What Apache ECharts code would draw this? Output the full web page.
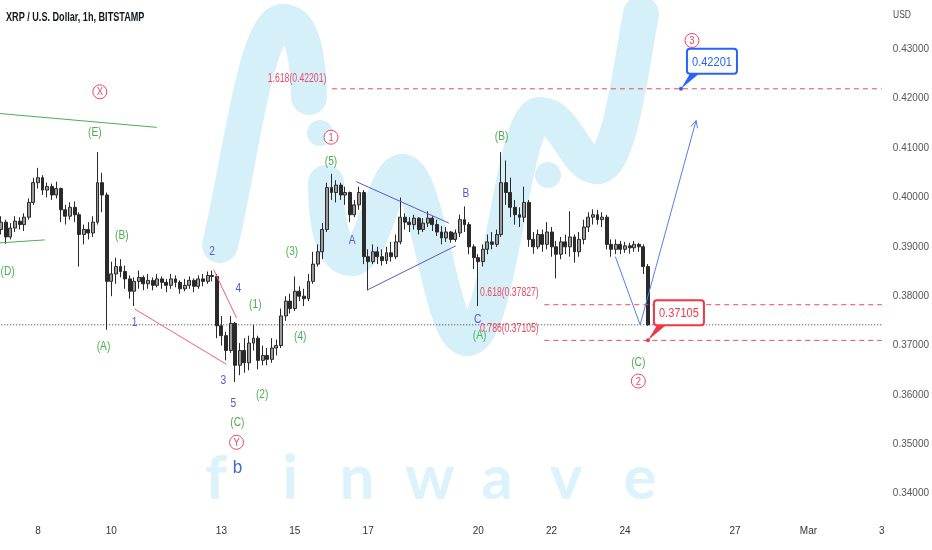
<!DOCTYPE html>
<html><head><meta charset="utf-8">
<script src="https://cdn.jsdelivr.net/npm/echarts/dist/echarts.min.js"></script>
<style>html,body{margin:0;padding:0;background:#fff}#c{width:932px;height:550px}</style>
</head><body><div id="c"></div>
<script>
// ---- 3-hour candles, XRP/USD ----
const opens = [0.3935,0.3950,0.3920,0.3938,0.3952,0.3945,0.3960,0.3990,0.4030,0.4040,0.4015,0.4022,0.4005,0.4018,0.3975,0.3962,0.3980,0.3965,0.3925,0.3935,0.3928,0.3950,0.4030,0.4005,0.3830,0.3845,0.3860,0.3850,0.3835,0.3810,0.3830,0.3838,0.3825,0.3832,0.3822,0.3835,0.3828,0.3822,0.3835,0.3828,0.3815,0.3822,0.3832,0.3820,0.3835,0.3830,0.3842,0.3840,0.3740,0.3720,0.3690,0.3745,0.3660,0.3690,0.3665,0.3705,0.3715,0.3670,0.3680,0.3672,0.3695,0.3700,0.3760,0.3790,0.3775,0.3810,0.3800,0.3795,0.3830,0.3865,0.3890,0.3935,0.4020,0.4010,0.4025,0.4005,0.4010,0.3965,0.3985,0.4010,0.3880,0.3870,0.3890,0.3880,0.3872,0.3888,0.3880,0.3910,0.3960,0.3950,0.3945,0.3958,0.3935,0.3948,0.3958,0.3945,0.3930,0.3918,0.3930,0.3915,0.3928,0.3955,0.3945,0.3900,0.3878,0.3870,0.3895,0.3910,0.3905,0.3925,0.4030,0.4010,0.3980,0.3965,0.3960,0.3990,0.3915,0.3900,0.3925,0.3905,0.3930,0.3900,0.3885,0.3910,0.3900,0.3920,0.3890,0.3915,0.3940,0.3960,0.3965,0.3955,0.3960,0.3905,0.3895,0.3905,0.3895,0.3902,0.3898,0.3905,0.3900,0.3860];
const closes = [0.3950,0.3920,0.3938,0.3952,0.3945,0.3960,0.3990,0.4030,0.4040,0.4015,0.4022,0.4005,0.4018,0.3975,0.3962,0.3980,0.3965,0.3925,0.3935,0.3928,0.3950,0.4030,0.4005,0.3830,0.3845,0.3860,0.3850,0.3835,0.3810,0.3830,0.3838,0.3825,0.3832,0.3822,0.3835,0.3828,0.3822,0.3835,0.3828,0.3815,0.3822,0.3832,0.3820,0.3835,0.3830,0.3842,0.3840,0.3740,0.3720,0.3690,0.3745,0.3660,0.3690,0.3665,0.3705,0.3715,0.3670,0.3680,0.3672,0.3695,0.3700,0.3760,0.3790,0.3775,0.3810,0.3800,0.3795,0.3830,0.3865,0.3890,0.3935,0.4020,0.4010,0.4025,0.4005,0.4010,0.3965,0.3985,0.4010,0.3880,0.3870,0.3890,0.3880,0.3872,0.3888,0.3880,0.3910,0.3960,0.3950,0.3945,0.3958,0.3935,0.3948,0.3958,0.3945,0.3930,0.3918,0.3930,0.3915,0.3928,0.3955,0.3945,0.3900,0.3878,0.3870,0.3895,0.3910,0.3905,0.3925,0.4030,0.4010,0.3980,0.3965,0.3960,0.3990,0.3915,0.3900,0.3925,0.3905,0.3930,0.3900,0.3885,0.3910,0.3900,0.3920,0.3890,0.3915,0.3940,0.3960,0.3965,0.3955,0.3960,0.3905,0.3895,0.3905,0.3895,0.3902,0.3898,0.3905,0.3900,0.3860,0.3742];
const lows = [0.3925,0.3906,0.3915,0.3930,0.3935,0.3932,0.3955,0.3985,0.4018,0.4005,0.4000,0.3995,0.3998,0.3950,0.3945,0.3955,0.3950,0.3860,0.3905,0.3915,0.3920,0.3945,0.3970,0.3732,0.3800,0.3825,0.3838,0.3815,0.3795,0.3780,0.3815,0.3812,0.3815,0.3812,0.3818,0.3815,0.3808,0.3815,0.3818,0.3805,0.3810,0.3815,0.3808,0.3815,0.3820,0.3825,0.3830,0.3715,0.3700,0.3670,0.3685,0.3626,0.3640,0.3645,0.3650,0.3690,0.3652,0.3660,0.3660,0.3665,0.3680,0.3695,0.3750,0.3765,0.3770,0.3790,0.3780,0.3790,0.3825,0.3860,0.3875,0.3930,0.3995,0.3990,0.3995,0.3985,0.3950,0.3960,0.3975,0.3865,0.3812,0.3865,0.3865,0.3862,0.3865,0.3870,0.3875,0.3905,0.3935,0.3930,0.3935,0.3925,0.3930,0.3940,0.3932,0.3922,0.3905,0.3910,0.3908,0.3910,0.3920,0.3930,0.3885,0.3855,0.3780,0.3860,0.3885,0.3895,0.3900,0.3920,0.3985,0.3960,0.3945,0.3940,0.3950,0.3900,0.3886,0.3895,0.3890,0.3895,0.3880,0.3836,0.3875,0.3885,0.3880,0.3868,0.3880,0.3905,0.3930,0.3945,0.3945,0.3940,0.3895,0.3880,0.3885,0.3885,0.3888,0.3886,0.3890,0.3890,0.3845,0.3740];
const highs = [0.3962,0.3955,0.3948,0.3962,0.3960,0.3968,0.3998,0.4040,0.4060,0.4045,0.4030,0.4028,0.4032,0.4020,0.3985,0.3990,0.3992,0.3970,0.3945,0.3950,0.3962,0.4092,0.4050,0.4010,0.3870,0.3878,0.3875,0.3862,0.3842,0.3838,0.3852,0.3842,0.3845,0.3838,0.3845,0.3840,0.3835,0.3845,0.3842,0.3832,0.3835,0.3840,0.3836,0.3842,0.3845,0.3850,0.3852,0.3845,0.3760,0.3728,0.3760,0.3748,0.3705,0.3715,0.3720,0.3742,0.3720,0.3700,0.3695,0.3715,0.3712,0.3775,0.3800,0.3805,0.3840,0.3820,0.3815,0.3845,0.3890,0.3905,0.3948,0.4030,0.4048,0.4035,0.4030,0.4022,0.4012,0.3995,0.4022,0.4015,0.3895,0.3905,0.3900,0.3895,0.3900,0.3910,0.3925,0.4000,0.3968,0.3960,0.3965,0.3960,0.3958,0.3972,0.3962,0.3955,0.3942,0.3940,0.3932,0.3935,0.3965,0.3982,0.3950,0.3905,0.3885,0.3905,0.3925,0.3930,0.3935,0.4092,0.4075,0.4040,0.3995,0.3980,0.4022,0.3995,0.3930,0.3935,0.3935,0.3950,0.3940,0.3912,0.3920,0.3925,0.3972,0.3925,0.3930,0.3955,0.3970,0.3976,0.3975,0.3970,0.3965,0.3915,0.3915,0.3912,0.3910,0.3908,0.3912,0.3908,0.3905,0.3865];

// ---- axis ticks ----
const tickDates  = ['02-08','02-10','02-13','02-15','02-17','02-20','02-22','02-24','02-27','03-01','03-03'];
const tickLabels = ['8','10','13','15','17','20','22','24','27','Mar','3'];
const priceLevels = [0.43,0.42,0.41,0.40,0.39,0.38,0.37,0.36,0.35,0.34];

// ---- annotations (x in 3h-slot index from Feb 7 00:00, y in USD) ----
const greenLabels = [['(E)',20.4,0.4132],['(D)',1.4,0.3850],['(B)',26.3,0.3922],['(A)',22.3,0.3698],['(1)',55.4,0.3782],['(2)',56.9,0.3600],['(3)',63.4,0.3890],['(4)',65.2,0.3718],['(5)',71.9,0.4072],['(C)',51.5,0.3544],['(B)',109.1,0.4124],['(A)',104.3,0.3720],['(C)',138.9,0.3666]];
const purpleLabels = [['1',29.1,0.3746],['2',46.0,0.3890],['3',48.4,0.3628],['4',51.7,0.3816],['5',50.6,0.3582],['A',76.5,0.3912],['B',101.3,0.4008],['C',103.9,0.3752]];
const blueLetter = [['b',51.5,0.3452]];
const circledLabels = [['X',21.5,0.4214],['1',71.9,0.4122],['2',138.9,0.3628],['3',150.6,0.4318],['Y',51.3,0.3504]];
const fibTexts = [['1.618(0.42201)',64.5,0.4240],['0.618(0.37827)',110.8,0.3808],['0.786(0.37105)',110.8,0.3734]];
const fibLevels = [[72.1,0.42201],[118.4,0.37827],[118.4,0.37105]];
const lastPrice = 0.3742;
const greenLines = [[[-0.3,0.4170],[33.9,0.4142]],[[-0.3,0.3908],[9.5,0.3914]]];
const pinkLines = [[[29.1,0.3774],[49.1,0.3662]],[[46.3,0.3854],[51.3,0.3756]]];
const triangleLines = [[[77.4,0.4032],[97.6,0.3948]],[[79.7,0.3812],[99.1,0.3902]]];
const projection = [[133.9,0.3880],[139.3,0.3742],[151.5,0.4156]];
const callouts = [[148.2,0.42201],[141.0,0.37105]];
const calloutColors = ['#2962ff','#f23645'];

// ---- categories: 3-hour slots ----
const categories = [];
const t0 = Date.UTC(2023,1,7);
for (let k = 0; k <= 192; k++) {
  const d = new Date(t0 + k*3*3600*1000);
  const mm = String(d.getUTCMonth()+1).padStart(2,'0');
  const dd = String(d.getUTCDate()).padStart(2,'0');
  const hh = String(d.getUTCHours()).padStart(2,'0');
  categories.push(mm+'-'+dd+' '+hh+':00');
}
const tickMap = new Map(tickDates.map((d,i)=>[d+' 00:00', tickLabels[i]]));
const candles = opens.map((o,i)=>[o, closes[i], lows[i], highs[i]]);

const FONT = '"Liberation Sans", Arial, sans-serif';
const RED = '#ec4862';
const chart = echarts.init(document.getElementById('c'), null, {renderer:'canvas'});

// text rendered at data coordinates, horizontally condensed like the reference
function textSeries(list, color, size, sx, extra) {
  return Object.assign({
    type:'custom', xAxisIndex:1, yAxisIndex:0, z:6, silent:true,
    data:list.map(r=>({name:r[0], value:[r[1], r[2]]})),
    renderItem:(params, api)=>{
      const p = api.coord([api.value(0), api.value(1)]);
      return {type:'text', x:p[0], y:p[1], scaleX:sx, style:{text:list[params.dataIndex][0], x:0, y:0,
        align:'center', verticalAlign:'middle', textAlign:'center', textVerticalAlign:'middle',
        fill:color, font:size+'px '+FONT}};
    }
  }, extra||{});
}
function circledSeries(list) {
  return {type:'custom', xAxisIndex:1, yAxisIndex:0, z:6, silent:true,
    data:list.map(r=>({name:r[0], value:[r[1], r[2]]})),
    renderItem:(params, api)=>{
      const p = api.coord([api.value(0), api.value(1)]);
      return {type:'group', children:[
        {type:'circle', shape:{cx:p[0], cy:p[1], r:7}, style:{fill:'#fff', stroke:RED, lineWidth:1}},
        {type:'text', x:p[0], y:p[1]+0.5, scaleX:0.85, style:{text:list[params.dataIndex][0], x:0, y:0, align:'center', verticalAlign:'middle', textAlign:'center', textVerticalAlign:'middle', fill:RED, font:'11px '+FONT}}
      ]};
    }};
}
function segSeries(list, style, z) {
  return {type:'lines', coordinateSystem:'cartesian2d', xAxisIndex:1, yAxisIndex:0, z:z||4, silent:true,
    polyline:true, data:list.map(c=>({coords:c})), lineStyle:style};
}

const logo = '#d6f0fa';
const bz = (x1,y1,c1x,c1y,c2x,c2y,x2,y2)=>({type:'bezierCurve', z:-10, shape:{x1:x1,y1:y1,cpx1:c1x,cpy1:c1y,cpx2:c2x,cpy2:c2y,x2:x2,y2:y2}, style:{stroke:logo,lineWidth:36,lineCap:'round',fill:null}});
const graphics = [
  bz(220,245,238,175,255,22,283,22),
  bz(283,22,302,22,308,55,309,97),
  {type:'circle', z:-10, shape:{cx:320,cy:133,r:13}, style:{fill:logo}},
  bz(326,183,326,230,335,258,352,258),
  bz(352,258,372,258,385,172,402,172),
  bz(402,172,428,172,440,338,467,338),
  bz(467,338,500,338,512,115,540,115),
  bz(540,115,566,115,575,166,597,166),
  bz(597,166,620,166,632,60,641,14),
  {type:'circle', z:-10, shape:{cx:548,cy:175,r:13}, style:{fill:logo}},
  {type:'text', x:6, y:17, z:20, scaleX:0.7, style:{text:'XRP / U.S. Dollar, 1h, BITSTAMP', x:0, y:0, fill:'#131722', font:'bold 13px '+FONT, verticalAlign:'middle', textVerticalAlign:'middle'}},
  {type:'text', x:893, y:15, z:20, scaleX:0.85, style:{text:'USD', x:0, y:0, fill:'#4d4d4d', font:'10px '+FONT, verticalAlign:'middle', textVerticalAlign:'middle'}}
];
const wm = [['f',216],['i',290],['n',357],['w',430],['a',497],['v',566],['e',640]];
wm.forEach(([ch,x])=>graphics.push({type:'text', x:x, y:510, z:-10, style:{text:ch, x:0, y:0, fill:'#ddf3fb', font:'bold 62px Lato, "Open Sans", sans-serif', align:'center', textAlign:'center', verticalAlign:'bottom', textVerticalAlign:'bottom'}}));

chart.setOption({
  animation:false,
  backgroundColor:'#ffffff',
  graphic:{elements:graphics},
  grid:{left:1.22, top:-7, width:883.2, height:550, containLabel:false},
  xAxis:[
    {type:'category', data:categories, boundaryGap:false, offset:-22,
     axisLine:{show:false}, axisTick:{show:false}, splitLine:{show:false},
     axisLabel:{interval:(idx,val)=>tickMap.has(val), formatter:(val)=>tickMap.get(val)||'', color:'#333', fontSize:10, fontFamily:FONT, margin:5}},
    {type:'value', min:0, max:192, show:false}
  ],
  yAxis:[{type:'value', position:'right', min:0.33, max:0.44, interval:0.01, scale:true,
     axisLine:{show:false}, axisTick:{show:false}, splitLine:{show:false},
     axisLabel:{margin:11, color:'#555', fontSize:10, fontFamily:FONT,
       formatter:(v)=> priceLevels.some(p=>Math.abs(p-v)<1e-6) ? v.toFixed(5) : ''}}],
  series:[
    {type:'candlestick', xAxisIndex:0, yAxisIndex:0, z:3, data:candles, barWidth:3.4,
     itemStyle:{color:'#9a9a9a', color0:'#2a2a2a', borderColor:'#2a2a2a', borderColor0:'#2a2a2a', borderWidth:1}},
    segSeries([[[0,lastPrice],[192,lastPrice]]], {color:'#333', width:1, type:[1,2], opacity:1}, 2),
    segSeries(fibLevels.map(f=>[[f[0],f[1]],[192,f[1]]]), {color:RED, width:1, type:[5,4], opacity:1}),
    segSeries(greenLines, {color:'#4caf50', width:1, opacity:1}),
    segSeries(pinkLines, {color:'#f0607e', width:1, opacity:1}),
    segSeries(triangleLines, {color:'#5e55d6', width:1, opacity:1}),
    {type:'custom', xAxisIndex:1, yAxisIndex:0, z:5, silent:true, data:projection,
     renderItem:(params, api)=>{
       if (params.dataIndex !== projection.length-1) return null;
       const pts = projection.map(q=>api.coord(q));
       const a = pts[pts.length-1], b = pts[pts.length-2];
       const ang = Math.atan2(a[1]-b[1], a[0]-b[0]);
       const L = 8, w = 0.45;
       const h1 = [a[0]-L*Math.cos(ang-w), a[1]-L*Math.sin(ang-w)];
       const h2 = [a[0]-L*Math.cos(ang+w), a[1]-L*Math.sin(ang+w)];
       return {type:'group', children:[
         {type:'polyline', shape:{points:pts}, style:{stroke:'#4f82e8', lineWidth:1, fill:null}},
         {type:'polyline', shape:{points:[h1,a,h2]}, style:{stroke:'#4f82e8', lineWidth:1, fill:null}}
       ]};
     }},
    textSeries(greenLabels, '#4caf50', 12, 0.85),
    textSeries(purpleLabels, '#5a52cf', 12, 0.85),
    textSeries(blueLetter, '#3a6bd4', 19, 0.9),
    textSeries(fibTexts, RED, 12, 0.72),
    circledSeries(circledLabels),
    {type:'custom', xAxisIndex:1, yAxisIndex:0, z:8, silent:true, data:callouts,
     renderItem:(params, api)=>{
       const p = api.coord([api.value(0), api.value(1)]);
       const col = calloutColors[params.dataIndex];
       const bx = p[0]+6, by = p[1]-40, bw = 50, bh = 25;
       return {type:'group', children:[
         {type:'polygon', shape:{points:[[p[0],p[1]],[bx+3,by+bh],[bx+12,by+bh]]}, style:{fill:col}},
         {type:'rect', shape:{x:bx,y:by,width:bw,height:bh,r:3}, style:{fill:'#ffffff', stroke:col, lineWidth:2}},
         {type:'text', x:bx+bw/2, y:by+bh/2+1, scaleX:0.85, style:{text:api.value(1).toFixed(5), x:0, y:0, align:'center', verticalAlign:'middle', textAlign:'center', textVerticalAlign:'middle', fill:col, font:'13px '+FONT}},
         {type:'circle', shape:{cx:p[0],cy:p[1],r:2}, style:{fill:col}}
       ]};
     }}
  ]
});
</script></body></html>
